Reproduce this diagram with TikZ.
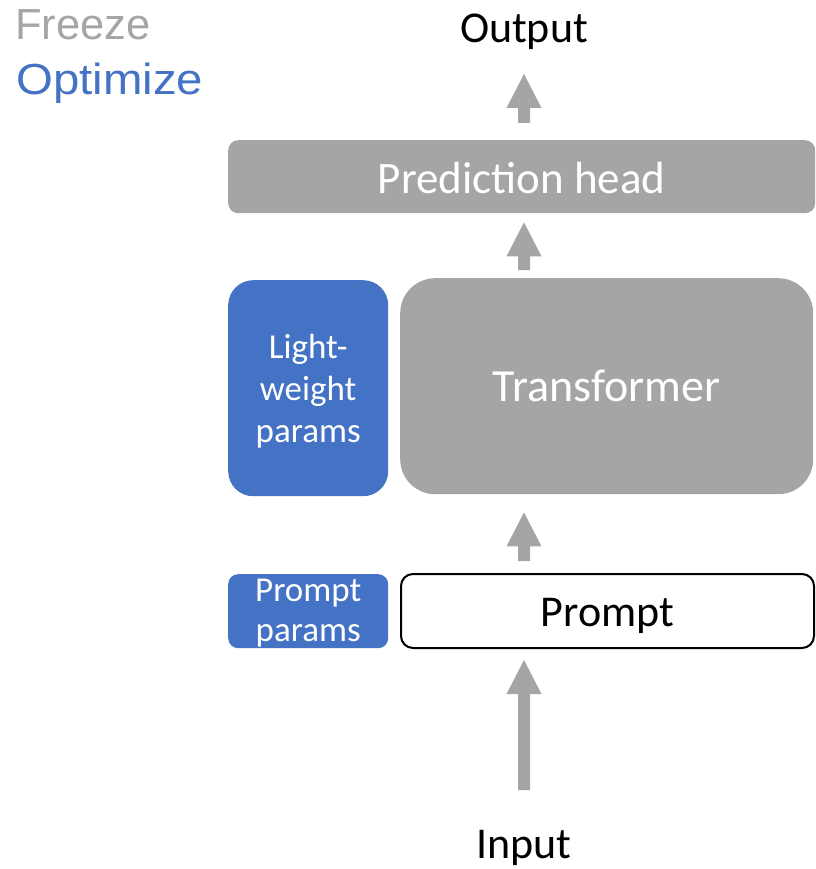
\documentclass[tikz,border=0pt]{standalone}
\usepackage{fontspec}
\setmainfont{Carlito}
\newfontfamily\legendfont{Liberation Sans}
\usetikzlibrary{calc}

\definecolor{frozen}{HTML}{A5A5A5}
\definecolor{tuned}{HTML}{4472C4}

\newcommand\bigtext{\fontsize{44}{53}\selectfont}
\newcommand\smalltext{\fontsize{35}{42}\selectfont}

\tikzset{
  box/.style={rectangle, anchor=north west, inner sep=0pt, text=white, font=\bigtext},
  frozenbox/.style={box, fill=frozen},
  tunedbox/.style={box, fill=tuned},
  tunedlabel/.style={inner sep=0pt, text=white, font=\smalltext, align=center},
  caption/.style={anchor=base, inner sep=0pt, font=\bigtext},
  legend/.style={anchor=base west, inner sep=0pt, font=\legendfont\fontsize{43.5}{50}\selectfont},
}

% Wide block arrow pointing up from #1 (tail) to #2 (tip)
\newcommand\blockarrow[2]{%
  \fill[frozen] let \p1=(#1), \p2=(#2) in
    (\x1-6pt,\y1) -- (\x1+6pt,\y1) -- (\x1+6pt,\y2-34pt) -- (\x1+17.5pt,\y2-34pt)
    -- (\x1,\y2) -- (\x1-17.5pt,\y2-34pt) -- (\x1-6pt,\y2-34pt) -- cycle;}

\begin{document}
\begin{tikzpicture}[x=1pt, y=-1pt]
  \useasboundingbox (0,0) rectangle (815,869);

  % legend
  \node[legend, text=frozen] (freeze) at (15,40) {Freeze};
  \node[legend, text=tuned] (optimize) at (16,95) {\scalebox{1.09}[1]{Optimize}};

  % model blocks
  \node[frozenbox, minimum width=587pt, minimum height=73pt, rounded corners=10pt,
        text height=33pt, text depth=0pt, font=\fontsize{45}{54}\selectfont]
        (pred) at (228,140) {Prediction head};
  \node[frozenbox, minimum width=413pt, minimum height=216pt, rounded corners=35pt,
        text height=30pt, text depth=0pt, font=\fontsize{46}{55}\selectfont]
        (trans) at (400,278) {Transformer};
  \node[tunedbox, minimum width=160pt, minimum height=216pt, rounded corners=25pt]
        (light) at (228,280) {};
  \node[box, draw=black, line width=2pt, fill=white, text=black,
        minimum width=413pt, minimum height=74pt, rounded corners=12pt,
        text height=30pt, text depth=0pt] (prompt) at (400,573) {Prompt};
  \node[tunedbox, minimum width=160pt, minimum height=74pt, rounded corners=10pt]
        (pparams) at (228,574) {};

  % texts of the tuned blocks
  \node[tunedlabel] (light-text) at ($(light.center)+(0,3)$) {Light-\\weight\\params};
  \node[tunedlabel, font=\fontsize{35}{40}\selectfont] (pparams-text)
        at ($(pparams.center)+(0,2)$) {Prompt\\params};

  % input / output labels
  \node[caption] (output) at (524,43) {Output};
  \node[caption] (input) at (524,858) {Input};

  % arrow axis and arrow ends
  \coordinate (axis) at (524,0);
  \coordinate (in-tail) at (axis |- 0,790);
  \coordinate (in-tip)  at ($(prompt.south -| axis)+(0,11)$);
  \coordinate (pr-tail) at ($(prompt.north -| axis)+(0,-12)$);
  \coordinate (pr-tip)  at ($(trans.south -| axis)+(0,18)$);
  \coordinate (tr-tail) at ($(trans.north -| axis)+(0,-8)$);
  \coordinate (tr-tip)  at ($(pred.south -| axis)+(0,9)$);
  \coordinate (hd-tail) at ($(pred.north -| axis)+(0,-17)$);
  \coordinate (hd-tip)  at (axis |- 0,74);

  \blockarrow{in-tail}{in-tip}
  \blockarrow{pr-tail}{pr-tip}
  \blockarrow{tr-tail}{tr-tip}
  \blockarrow{hd-tail}{hd-tip}
\end{tikzpicture}
\end{document}
